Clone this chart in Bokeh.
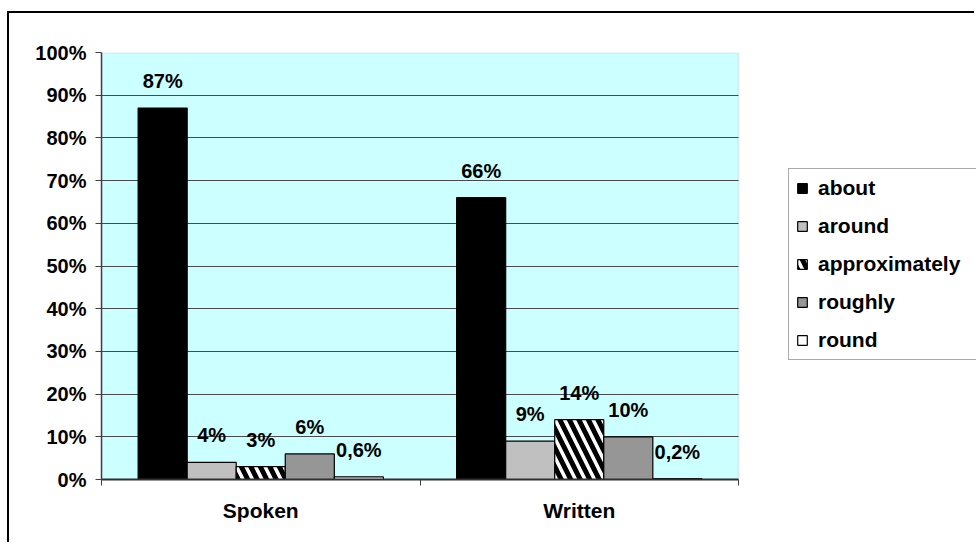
from bokeh.plotting import figure
from bokeh.models import (ColumnDataSource, FixedTicker, Legend, LegendItem,
                          Range1d, PrintfTickFormatter, CustomJSTickFormatter,
                          BoxAnnotation)
from bokeh.core.properties import value
from bokeh.transform import dodge
from bokeh.embed import file_html
from bokeh.resources import INLINE

# Share of each approximator in spoken and written usage (%)
categories = ["Spoken", "Written"]
series = ["about", "around", "approximately", "roughly", "round"]
about = [87, 66]
around = [4, 9]
approximately = [3, 14]
roughly = [6, 10]
round_ = [0.6, 0.2]
y_ticks = [0, 10, 20, 30, 40, 50, 60, 70, 80, 90, 100]

values = {"about": about, "around": around, "approximately": approximately,
          "roughly": roughly, "round": round_}


def pct(v):
    return f"{v:g}".replace(".", ",") + "%"


data = {"x": [i + 0.5 for i in range(len(categories))]}
for s in series:
    data[s] = values[s]
    data[s + "_label"] = [pct(v) for v in values[s]]
src = ColumnDataSource(data)

FONT = "Liberation Sans"
n = len(categories)

# The frame runs to the right edge so the legend can sit beside the bars;
# the plotting area proper covers x in [0, n].
PLOT_PX = 637
FRAME_PX = 875
p = figure(width=967, height=531, output_backend="svg", toolbar_location=None,
           x_range=Range1d(0, n * FRAME_PX / PLOT_PX), y_range=Range1d(0, 100),
           min_border_left=92, min_border_right=0,
           min_border_top=39, min_border_bottom=65)
# chart border (left and top edges fall inside the window)
p.styles = {"margin-left": "7px", "margin-top": "11px",
            "border-left": "2px solid black", "border-top": "2px solid black"}
p.background_fill_color = "white"
p.border_fill_color = "white"
p.outline_line_color = None

# plotting area background and its light frame
p.add_layout(BoxAnnotation(left=0, right=n, bottom=0, top=100, level="image",
                           fill_color="#CCFFFF", fill_alpha=1,
                           line_color="#c0c0c0", line_width=2))

styles = {
    "about": dict(fill_color="black"),
    "around": dict(fill_color="#c0c0c0"),
    "approximately": dict(fill_color="white", hatch_pattern="\\",
                          hatch_color="black", hatch_scale=19, hatch_weight=5),
    "roughly": dict(fill_color="#969696"),
    "round": dict(fill_color="white"),
}

bar_w = 0.154
items = []
for i, s in enumerate(series):
    off = (i - 2) * bar_w
    r = p.vbar(x=dodge("x", off), top=s, width=bar_w, bottom=0, source=src,
               line_color="black", line_width=1.2, **styles[s])
    items.append(LegendItem(label=s, renderers=[r]))
    p.text(x=dodge("x", off), y=s, text=s + "_label", source=src,
           text_align="center", text_baseline="middle", y_offset=-27,
           text_font=value(FONT), text_font_style="bold",
           text_font_size="20px", text_color="black")

# Y axis
p.yaxis.ticker = FixedTicker(ticks=y_ticks)
p.yaxis.formatter = PrintfTickFormatter(format="%d%%")
p.yaxis.major_tick_out = 6
p.yaxis.major_tick_in = 0
p.yaxis.major_tick_line_color = "#404040"
p.yaxis.axis_line_color = "#404040"
p.yaxis.axis_line_width = 1.5
p.yaxis.major_label_standoff = 9
p.yaxis.major_label_text_font = FONT
p.yaxis.major_label_text_font_style = "bold"
p.yaxis.major_label_text_font_size = "20px"
p.yaxis.major_label_text_color = "black"

# X axis: labels at category centres, ticks at category boundaries
p.xaxis.bounds = (0, n)
p.xaxis.ticker = FixedTicker(ticks=data["x"], minor_ticks=list(range(n + 1)))
p.xaxis.formatter = CustomJSTickFormatter(args=dict(names=categories),
                                          code="return names[Math.floor(tick)]")
p.xaxis.major_tick_line_color = None
p.xaxis.minor_tick_out = 6
p.xaxis.minor_tick_in = 0
p.xaxis.minor_tick_line_color = "#404040"
p.xaxis.axis_line_color = "#303030"
p.xaxis.axis_line_width = 2
p.xaxis.major_label_standoff = 13
p.xaxis.major_label_text_font = FONT
p.xaxis.major_label_text_font_style = "bold"
p.xaxis.major_label_text_font_size = "21px"
p.xaxis.major_label_text_color = "black"

p.xgrid.visible = False
p.ygrid.ticker = FixedTicker(ticks=y_ticks[1:-1])
p.ygrid.cross_bounds = (0, n)
p.ygrid.grid_line_color = "#4a4a4a"
p.ygrid.grid_line_width = 1

# legend box runs on past the right edge of the chart
legend = Legend(items=items, location=(687, 119), orientation="vertical",
                label_text_font=FONT, label_text_font_style="bold",
                label_text_font_size="21px", label_text_color="black",
                glyph_width=12, glyph_height=12, label_standoff=10,
                label_width=175, spacing=14, padding=7, margin=0,
                border_line_color="#555555", border_line_width=1.5,
                background_fill_color="white", background_fill_alpha=1)
p.add_layout(legend, "center")

open("out.html", "w").write(file_html(p, INLINE))
